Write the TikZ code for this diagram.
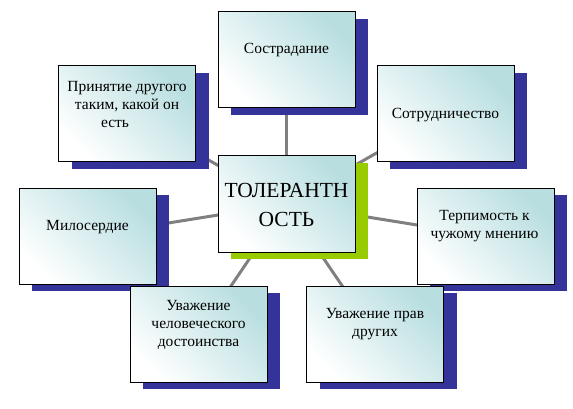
\documentclass[tikz,border=0pt]{standalone}
\usepackage{fontspec}
\setmainfont{Liberation Serif}
\usetikzlibrary{shadows,backgrounds}
\definecolor{shadowblue}{RGB}{51,51,153}
\definecolor{shadowgreen}{RGB}{153,204,0}
\definecolor{boxteal}{RGB}{184,222,224}
\definecolor{linkgray}{RGB}{128,128,128}
\tikzset{
  cardbase/.style={draw=black, line width=1pt, minimum width=137pt,
    minimum height=96pt, inner sep=0pt,
    bottom color=white, middle color=boxteal!18, top color=boxteal,
    shading angle=-45},
  card/.style={cardbase,
    general shadow={fill=shadowblue, shadow xshift=13pt, shadow yshift=-7pt}},
  hubcard/.style={cardbase,
    general shadow={fill=shadowgreen, shadow xshift=13pt, shadow yshift=-7pt}},
  cardtext/.style={align=center, font=\fontsize{15.5}{18}\selectfont},
  hubtext/.style={align=center, font=\fontsize{21.5}{29}\selectfont},
  link/.style={draw=linkgray, line width=3pt}
}
\begin{document}
\begin{tikzpicture}[x=1pt,y=-1pt]
  \useasboundingbox (0,0) rectangle (573,409);
  % boxes
  \node [card] (sos) at (286.5,60) {};
  \node [card] (prin) at (127,114) {};
  \node [card] (sotr) at (445.5,114) {};
  \node [hubcard] (hub) at (286.5,204) {};
  \node [card] (mil) at (87.5,236) {};
  \node [card] (terp) at (485.5,236) {};
  \node [card] (uchel) at (198.5,334) {};
  \node [card] (uprav) at (375,334) {};
  % labels
  \node [cardtext] (sos-t) at (286.5,50) {Сострадание};
  \node [cardtext] (prin-t) at (127,105)
    {Принятие другого\\таким, какой он\\есть\hspace*{24pt}};
  \node [cardtext] (sotr-t) at (445.5,115) {Сотрудничество};
  \node [hubtext] (hub-t) at (286.5,204.5) {ТОЛЕРАНТН\\ОСТЬ};
  \node [cardtext] (mil-t) at (87.5,227) {Милосердие};
  \node [cardtext] (terp-t) at (484.5,226.5) {Терпимость к\\чужому мнению};
  \node [cardtext] (uchel-t) at (198.5,325)
    {Уважение\\человеческого\\достоинства};
  \node [cardtext] (uprav-t) at (375,324.5) {Уважение прав\\других};
  % spokes behind everything
  \begin{scope}[on background layer]
    \foreach \n in {sos,prin,sotr,mil,terp,uchel,uprav}
      \draw [link] (hub.center) -- (\n.center);
  \end{scope}
\end{tikzpicture}
\end{document}
